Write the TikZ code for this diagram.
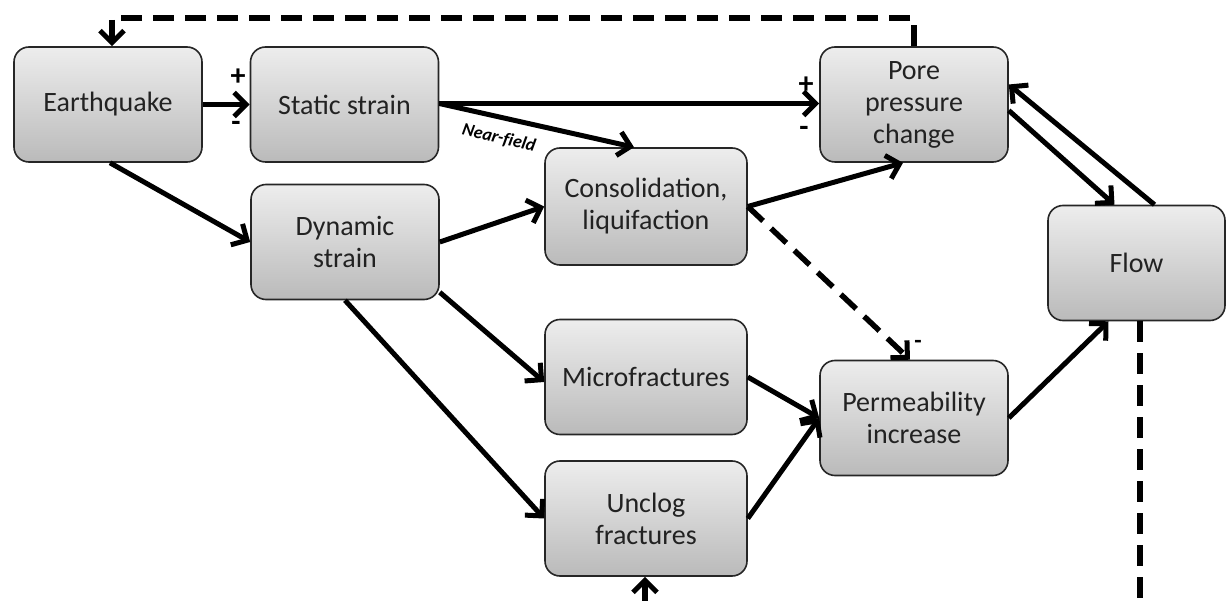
\documentclass[tikz,border=0pt]{standalone}
\usepackage{fontspec}
\setmainfont{Carlito}
\newfontfamily\nflig[Ligatures=NoCommon]{Carlito}
\usetikzlibrary{arrows.meta}
\definecolor{txt}{HTML}{222222}
\begin{document}
\begin{tikzpicture}[x=1pt,y=-1pt,
  box/.style={draw=black!85, line width=1.6pt, rounded corners=15pt,
    top color=black!7, bottom color=black!27, align=center,
    font=\fontsize{28}{32}\selectfont, text=txt,
    minimum width=188pt, minimum height=115pt, inner sep=2pt},
  arr/.style={line width=5pt, -{Straight Barb[length=12pt,width=24pt,line width=5pt]}},
  dsh/.style={line width=5.5pt, dash pattern=on 21pt off 11pt},
  sgn/.style={font=\fontsize{30}{30}\selectfont\bfseries, text=black, inner sep=0pt}
]
\useasboundingbox (0,0) rectangle (1227,601);

\node[box] (eq) at (108,104.5) {Earthquake};
\node[box] (ss) at (344.5,104.5) {Static strain};
\node[box] (ds) at (345,242) {Dynamic\\strain};
\node[box, minimum width=202pt, minimum height=117pt] (co) at (646,206.5) {Consolidation,\\liquifaction};
\node[box] (pp) at (914,104.5) {Pore\\pressure\\change};
\node[box, minimum width=177pt] (fl) at (1136.5,263) {Flow};
\node[box, minimum width=202pt] (mi) at (646,377) {Microfractures};
\node[box] (pe) at (914,418) {Permeability\\increase};
\node[box, minimum width=202pt] (un) at (646,518.5) {Unclog\\fractures};

% signs
\node[sgn] (p1) at (238,77) {+};
\node[sgn] (m1) at (236,126) {-};
\node[sgn] (p2) at (806,85) {+};
\node[sgn] (m2) at (804,131) {-};
\node[sgn, font=\fontsize{24}{24}\selectfont\bfseries] (m3) at (918,344) {-};
\node[font=\nflig\fontsize{18}{18}\selectfont\itshape\bfseries, text=black, rotate=-13, inner sep=0pt] (nf) at (499,138) {Near-field};

% solid connectors
\draw[arr] (eq.east) -- (ss.west);
\draw[arr] ([xshift=2pt]eq.south) -- (ds.west);
\draw[arr] ([yshift=1pt]ss.east) -- ([yshift=1pt]pp.west);
\draw[arr] ([yshift=1pt]ss.east) -- ([xshift=-12pt]co.north);
\draw[arr] (ds.east) -- (co.west);
\draw[arr] (co.east) -- ([xshift=-11pt]pp.south);
\draw[arr] ([yshift=8pt]ds.south east) -- ([yshift=-5pt]mi.west);
\draw[arr] (ds.south) -- (un.west);
\draw[arr] (mi.east) -- (pe.west);
\draw[arr] (un.east) -- (pe.west);
\draw[arr] (pe.east) -- ([xshift=-28pt]fl.south);
\draw[arr] ([yshift=-6pt]pp.east) -- ([xshift=-22pt]fl.north);
\draw[arr] ([xshift=18pt]fl.north) -- ([yshift=20pt]pp.east);

% dashed connectors
\draw[arr, dsh] (co.east) -- ([xshift=-4pt]pe.north);
\coordinate (tr) at (914,18);
\coordinate (tl) at (112,18);
\draw[arr, dsh] (pp.north) -- (tr) -- (tl) -- ([xshift=4pt]eq.north);
\coordinate (fb) at (1140,601);
\draw[dsh] ([xshift=3.5pt]fl.south) -- (fb);
\coordinate (ub) at (645,601);
\draw[arr, dsh] (ub) -- ([xshift=-1pt]un.south);
\end{tikzpicture}
\end{document}
